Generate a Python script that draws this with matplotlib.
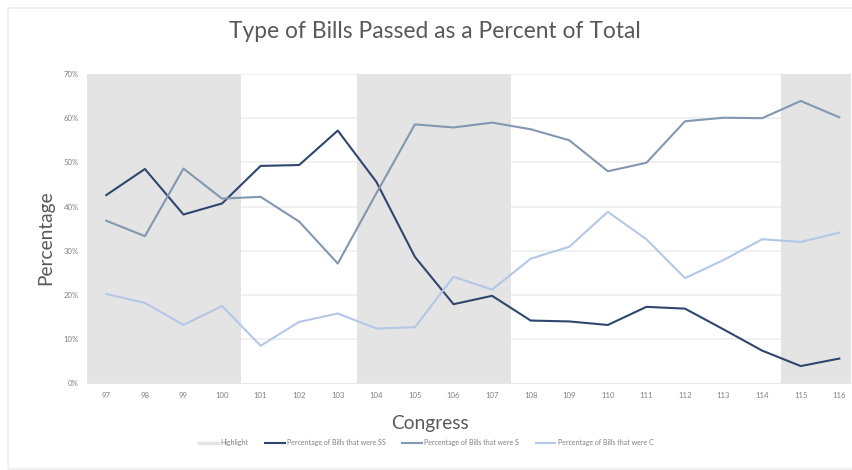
import matplotlib
matplotlib.use("Agg")
import matplotlib.pyplot as plt
from matplotlib.patches import Rectangle
from matplotlib.lines import Line2D

plt.rcParams['font.family'] = ['Lato', 'DejaVu Sans']

congress = list(range(97, 117))
pct_ss = [42.6, 48.5, 38.2, 40.7, 49.2, 49.4, 57.2, 45.6, 28.6, 17.9,
          19.8, 14.2, 14.0, 13.2, 17.3, 16.9, 12.2, 7.4, 3.9, 5.6]
pct_s = [36.8, 33.3, 48.6, 41.8, 42.2, 36.6, 27.1, 43.0, 58.6, 57.9,
         59.0, 57.5, 55.0, 48.0, 49.9, 59.3, 60.1, 60.0, 63.9, 60.2]
pct_c = [20.2, 18.2, 13.2, 17.5, 8.5, 13.9, 15.8, 12.4, 12.7, 24.1,
         21.2, 28.2, 30.9, 38.8, 32.6, 23.8, 27.9, 32.6, 32.0, 34.1]
highlight_ranges = [(97, 100), (104, 107), (115, 116)]
yticks = [0, 10, 20, 30, 40, 50, 60, 70]

W, H = 852, 470
fig = plt.figure(figsize=(W / 100, H / 100), dpi=100)

# chart border
fig.patches.append(Rectangle((7.5 / W, 1 - 469 / H), 1.0, (469 - 7.5) / H,
                             transform=fig.transFigure, fill=False,
                             edgecolor='#eeeeee', linewidth=1.2))

left, right = 87 / W, 851 / W
bottom, top = 1 - 383.3 / H, 1 - 74 / H
ax = fig.add_axes([left, bottom, right - left, top - bottom])

c_ss = '#2f466f'
c_s = '#8497b0'
c_c = '#b4c7e7'
c_hl = '#e4e4e4'

for a, b in highlight_ranges:
    ax.axvspan(a - 0.5, b + 0.5, color=c_hl, zorder=1, lw=0)

for y in yticks[1:]:
    ax.axhline(y, color='#eeeeee', lw=1.2, zorder=0.5)

ax.plot(congress, pct_ss, color=c_ss, lw=1.5, zorder=3)
ax.plot(congress, pct_s, color=c_s, lw=1.5, zorder=3)
ax.plot(congress, pct_c, color=c_c, lw=1.5, zorder=3)

ax.set_xlim(96.5, 96.5 + (851 - 87) / 38.58)
ax.set_ylim(0, 70)
ax.set_xticks(congress)
ax.set_xticklabels([str(c) for c in congress], fontsize=5.6, color='#808080')
ax.set_yticks(yticks)
ax.set_yticklabels([f'{y}%' for y in yticks], fontsize=5.6, color='#808080')
ax.tick_params(length=0)
ax.tick_params(axis='x', pad=6)
ax.tick_params(axis='y', pad=6)
for s in ax.spines.values():
    s.set_visible(False)
ax.spines['bottom'].set_visible(True)
ax.spines['bottom'].set_color('#e8e8e8')
ax.spines['bottom'].set_zorder(2)

fig.text(435 / W, 1 - 31 / H, 'Type of Bills Passed as a Percent of Total',
         ha='center', va='center', fontsize=16.4, color='#595959')
fig.text(46 / W, 1 - 238 / H, 'Percentage', rotation=90, ha='center',
         va='center', fontsize=13.8, color='#595959')
fig.text(430 / W, 1 - 423 / H, 'Congress', ha='center', va='center',
         fontsize=13.8, color='#595959')

handles = [Line2D([], [], color=c_hl, lw=2.5),
           Line2D([], [], color=c_ss, lw=1.5),
           Line2D([], [], color=c_s, lw=1.5),
           Line2D([], [], color=c_c, lw=1.5)]
labels = ['Highlight', 'Percentage of Bills that were SS',
          'Percentage of Bills that were S', 'Percentage of Bills that were C']
leg = fig.legend(handles, labels, loc='center', bbox_to_anchor=(426 / W, 1 - 443 / H),
                 ncol=4, frameon=False, fontsize=5.0, handlelength=2.8,
                 handletextpad=0.35, columnspacing=2.4, labelcolor='#808080')

fig.savefig('out.png', dpi=100)
